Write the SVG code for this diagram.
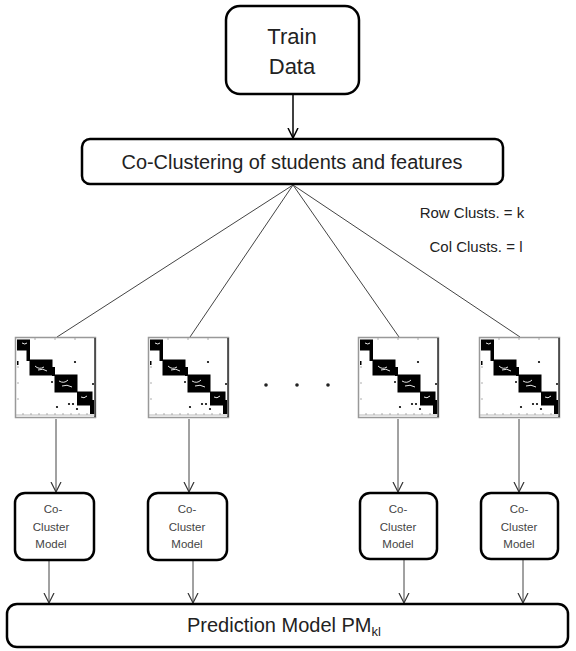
<svg xmlns="http://www.w3.org/2000/svg" xmlns:xlink="http://www.w3.org/1999/xlink" width="576" height="651" viewBox="0 0 576 651">
<style>
.box{fill:#fff;stroke:#000;stroke-width:2.5}
.t{font-family:"Liberation Sans",Arial,sans-serif;fill:#222;text-anchor:middle}
.m{font-family:"Liberation Sans",Arial,sans-serif;fill:#444;font-size:11.5px;text-anchor:middle}
.c{stroke:#444;stroke-width:1;fill:none}
.ca{stroke:#444;stroke-width:1;fill:none;marker-end:url(#ah)}
</style>
<defs>
<marker id="ah" viewBox="0 0 12 12" refX="10" refY="6" markerWidth="12" markerHeight="12" markerUnits="userSpaceOnUse" orient="auto">
<path d="M0,1 L10,6 L0,11" fill="none" stroke="#333" stroke-width="1.2"/>
</marker>
<marker id="ah2" viewBox="0 0 12 12" refX="10" refY="6" markerWidth="12" markerHeight="12" markerUnits="userSpaceOnUse" orient="auto">
<path d="M0,1 L10,6 L0,11" fill="none" stroke="#000" stroke-width="1.5"/>
</marker>
<g id="mat">
<rect x="0.5" y="0.5" width="80" height="80" fill="#fff" stroke="#999" stroke-width="1.5"/>
<line x1="80" y1="1" x2="80" y2="80" stroke="#333" stroke-width="1.5"/>
<line x1="1" y1="78" x2="80" y2="78" stroke="#aaa" stroke-width="0.8"/>
<path d="M8,78v-2M16,78v-2M24,78v-2M32,78v-2M40,78v-2M48,78v-2M56,78v-2M64,78v-2M72,78v-2M2,12h2M2,30h2M2,46h2M2,62h2M20,1v2M40,1v2M60,1v2" stroke="#999" stroke-width="0.8"/>
<rect x="2" y="2.5" width="13" height="11" fill="#000"/>
<rect x="11.5" y="12" width="3.5" height="12" fill="#000"/>
<rect x="14.5" y="22.5" width="23" height="16" fill="#000"/>
<rect x="37" y="30" width="3" height="9" fill="#000"/>
<rect x="39.5" y="37.5" width="23" height="18" fill="#000"/>
<rect x="62" y="54.5" width="15.5" height="14" fill="#000"/>
<rect x="75" y="63" width="4" height="14" fill="#000"/>
<path d="M7,6 q3,2 5,0 M20,29 q4,4 9,1 M23,33 q5,-2 9,1 M44,44 q5,3 9,-1 M47,49 q5,-2 10,1 M66,60 q3,2 6,-1" stroke="#fff" stroke-width="0.9" fill="none"/>
<circle cx="60" cy="25" r="1.1" fill="#000"/>
<circle cx="78" cy="47" r="1" fill="#000"/>
<circle cx="42" cy="70" r="1.1" fill="#000"/>
<circle cx="54" cy="67" r="1.1" fill="#000"/>
<circle cx="58" cy="67" r="1.1" fill="#000"/>
<circle cx="62" cy="72" r="1.1" fill="#000"/>
<circle cx="37" cy="45" r="1" fill="#000"/>
<rect x="2" y="24" width="1.5" height="4" fill="#000"/>
</g>
</defs>
<rect width="576" height="651" fill="#fff"/>
<g id="connectors">
<line x1="293" y1="95" x2="293" y2="138" stroke="#000" stroke-width="1.5" marker-end="url(#ah2)"/>
<line class="c" x1="293" y1="185" x2="57" y2="337"/>
<line class="c" x1="293" y1="185" x2="190" y2="337"/>
<line class="c" x1="293" y1="185" x2="399" y2="337"/>
<line class="c" x1="293" y1="185" x2="520" y2="337"/>
<line class="ca" x1="56" y1="419" x2="56" y2="492"/>
<line class="ca" x1="189" y1="419" x2="189" y2="492"/>
<line class="ca" x1="398" y1="419" x2="398" y2="492"/>
<line class="ca" x1="519" y1="419" x2="519" y2="492"/>
<line class="ca" x1="49" y1="560" x2="49" y2="603"/>
<line class="ca" x1="193" y1="560" x2="193" y2="603"/>
<line class="ca" x1="404" y1="560" x2="404" y2="603"/>
<line class="ca" x1="523" y1="560" x2="523" y2="603"/>
</g>
<g id="train">
<rect class="box" x="226" y="6" width="133" height="88" rx="14" stroke-width="3"/>
<text class="t" x="292" y="44" font-size="22">Train</text>
<text class="t" x="292" y="74" font-size="22">Data</text>
</g>
<g id="coclust">
<rect class="box" x="82" y="139" width="421" height="45" rx="8"/>
<text class="t" x="292" y="169" font-size="20" textLength="341" lengthAdjust="spacingAndGlyphs">Co-Clustering of students and features</text>
</g>
<g id="params">
<text class="t" x="472" y="218" font-size="15" fill="#333">Row Clusts. = k</text>
<text class="t" x="476" y="252" font-size="15" fill="#333">Col Clusts. = l</text>
</g>
<g id="matrix1"><use xlink:href="#mat" x="15" y="337"/></g>
<g id="matrix2"><use xlink:href="#mat" x="148" y="337"/></g>
<g id="matrix3"><use xlink:href="#mat" x="358" y="337"/></g>
<g id="matrix4"><use xlink:href="#mat" x="479" y="337"/></g>
<g id="ellipsis">
<circle cx="266" cy="385" r="1.8" fill="#222"/>
<circle cx="297" cy="385" r="1.8" fill="#222"/>
<circle cx="328" cy="385" r="1.8" fill="#222"/>
</g>
<g id="model1">
<rect class="box" x="15" y="493" width="79" height="67" rx="10"/>
<text class="m" x="53" y="513">Co-</text><text class="m" x="51" y="531">Cluster</text><text class="m" x="51" y="548">Model</text>
</g>
<g id="model2">
<rect class="box" x="148" y="493" width="79" height="67" rx="10"/>
<text class="m" x="187" y="513">Co-</text><text class="m" x="187" y="531">Cluster</text><text class="m" x="187" y="548">Model</text>
</g>
<g id="model3">
<rect class="box" x="360" y="493" width="77" height="66" rx="10"/>
<text class="m" x="398" y="513">Co-</text><text class="m" x="398" y="531">Cluster</text><text class="m" x="398" y="548">Model</text>
</g>
<g id="model4">
<rect class="box" x="481" y="493" width="77" height="66" rx="10"/>
<text class="m" x="519" y="513">Co-</text><text class="m" x="519" y="531">Cluster</text><text class="m" x="519" y="548">Model</text>
</g>
<g id="prediction">
<rect class="box" x="7" y="604" width="561" height="43" rx="10"/>
<text class="t" x="187" y="632" font-size="20" style="text-anchor:start">Prediction Model PM<tspan font-size="13" dy="4">kl</tspan></text>
</g>
</svg>
